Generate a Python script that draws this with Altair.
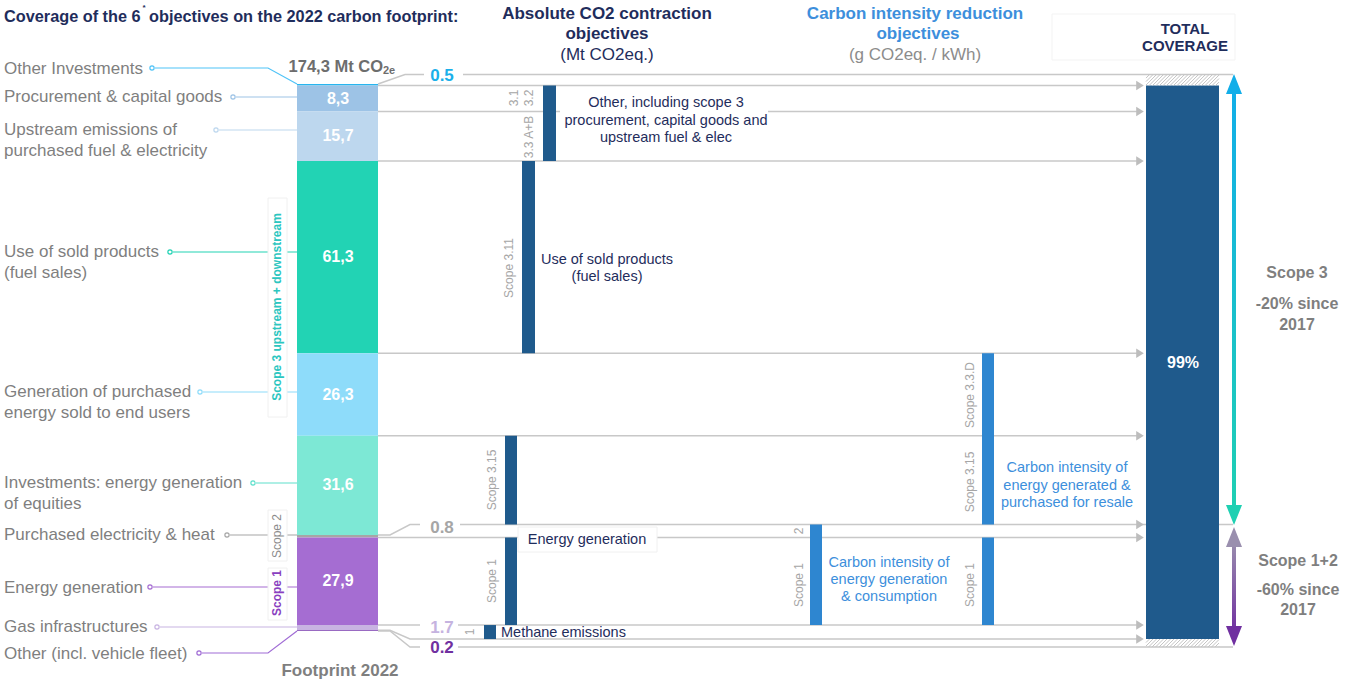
import altair as alt
import pandas as pd

W, H = 1346, 679
FONT = "Liberation Sans"
NAVY = "#1f2d5c"
BARNAVY = "#1f5a8c"
BLUE = "#2e86d0"
TXTBLUE = "#3d8fdc"
GRAY = "#7f7f7f"
LGRAY = "#a6a6a6"
LINE = "#c8c8c8"

# ---------------- data ----------------
seg_values = [0.5, 8.3, 15.7, 61.3, 26.3, 31.6, 0.8, 27.9, 1.7, 0.2]
seg_text = ["0.5", "8,3", "15,7", "61,3", "26,3", "31,6", "0.8", "27,9", "1.7", "0.2"]
seg_labels = [
    ["Other Investments"],
    ["Procurement & capital goods"],
    ["Upstream emissions of", "purchased fuel & electricity"],
    ["Use of sold products", "(fuel sales)"],
    ["Generation of purchased", "energy sold to end users"],
    ["Investments: energy generation", "of equities"],
    ["Purchased electricity & heat"],
    ["Energy generation"],
    ["Gas infrastructures"],
    ["Other (incl. vehicle fleet)"],
]
seg_colors = ["#29b5ef", "#9dc3e6", "#bdd7ee", "#22d3b4", "#8edcfa",
              "#7de8d5", "#a6a6a6", "#a56dd2", "#c8b4e2", "#7b3fb0"]
link_colors = ["#4fc3f7", "#9dc3e6", "#bdd7ee", "#22d3b4", "#8edcfa",
               "#5fe0cc", "#a6a6a6", "#a56dd2", "#c8b4e2", "#a06cd5"]
small_value_colors = {0: "#1ab0ea", 6: "#a6a6a6", 8: "#c5b3e0", 9: "#7030a0"}
footprint_total = "174,3 Mt CO"
footprint_total_sub = "2e"
footprint_name = "Footprint 2022"
coverage_share = "99%"

# objectives: (first segment, last segment, column)
abs_objectives = [(1, 2, "other"), (3, 3, "sold"), (5, 5, "s315"), (7, 7, "s1"), (8, 8, "methane")]
int_objectives = [(6, 7, "gen"), (4, 5, "resale"), (7, 7, "resale")]
covered = (1, 8)

# ---------------- layout ----------------
PX_TOP = 84.0
K = (631.0 - PX_TOP) / sum(seg_values)


def u(px):
    return (px - PX_TOP) / K


XS = alt.Scale(domain=[0, W], range=[0, W], nice=False, zero=False)
YS = alt.Scale(domain=[u(0), u(H)], range=[0, H], nice=False, zero=False)

cum = [0.0]
for v in seg_values:
    cum.append(cum[-1] + v)
right = cum[:]
right[0] = cum[1] - 11 / K
right[6] = cum[7] - 13 / K
right[9] = cum[8] + 14 / K
right[10] = right[9] + 8 / K

BAR_X = (297, 378)
TOT_X = (1146, 1219)
col_x = {"other": (543, 556), "sold": (522, 535), "s315": (505, 517), "s1": (505, 517),
         "methane": (484, 496), "gen": (810, 822), "resale": (982, 994)}

X = lambda: alt.X("x:Q", scale=XS, axis=None)
Y = lambda: alt.Y("y:Q", scale=YS, axis=None)


def rects(rows, color_field=True, **kw):
    df = pd.DataFrame(rows)
    enc = dict(x=X(), x2="x2:Q", y=Y(), y2="y2:Q")
    if color_field:
        enc["color"] = alt.Color("c:N", scale=None)
    return alt.Chart(df).mark_rect(**kw).encode(**enc)


def texts(rows, **kw):
    df = pd.DataFrame(rows, columns=["x", "yp", "t", "c"])
    df["y"] = df["yp"].map(u)
    return alt.Chart(df).mark_text(font=FONT, baseline="middle", **kw).encode(
        x=X(), y=Y(), text="t:N", color=alt.Color("c:N", scale=None))


def lines(rows, width=1.5):
    df = pd.DataFrame(rows)
    return alt.Chart(df).mark_line(strokeWidth=width).encode(
        x=X(), y=Y(), detail="id:N", order="o:Q", color=alt.Color("c:N", scale=None))


def points(rows, **kw):
    df = pd.DataFrame(rows)
    return alt.Chart(df).mark_point(**kw).encode(x=X(), y=Y(), color=alt.Color("c:N", scale=None))


layers = []

# header frame for total coverage
layers.append(rects([dict(x=1052, x2=1235, y=u(14), y2=u(60))], color_field=False,
                    fill="white", stroke="#f3f3f3", strokeWidth=1))

# boundary lines towards the total bar
rows = []
n = len(cum)
for i in range(n):
    end = 1233 if i in (0, 6, n - 1) else 1140
    if i == 0:
        pts = [(378, cum[i]), (405, right[i]), (end, right[i])]
    else:
        pts = [(378, cum[i]), (390, cum[i]), (410, right[i]), (end, right[i])]
    for j, (x, y) in enumerate(pts):
        rows.append(dict(id=f"b{i}", o=j, x=x, y=y, c=LINE))
layers.append(lines(rows, 1.5))

# left connectors
link_y = [68, 97, 130, 252, 392, 483, 535, 587, 627, 653]
circle_x = [152, 233, 216, 170, 200, 253, 227, 150, 157, 199]
rows = []
for i in range(len(seg_values)):
    if i == 0:
        pts = [(circle_x[i] + 3, u(link_y[i])), (268, u(link_y[i])), (BAR_X[0], cum[0])]
    elif i == len(seg_values) - 1:
        pts = [(circle_x[i] + 3, u(link_y[i])), (268, u(link_y[i])), (BAR_X[0], cum[-1])]
    else:
        pts = [(circle_x[i] + 3, u(link_y[i])), (BAR_X[0], u(link_y[i]))]
    for j, (x, y) in enumerate(pts):
        rows.append(dict(id=f"l{i}", o=j, x=x, y=y, c=link_colors[i]))
layers.append(lines(rows, 1.2))
layers.append(points([dict(x=circle_x[i], y=u(link_y[i]), c=link_colors[i]) for i in range(len(seg_values))],
                     shape="circle", filled=False, size=18, strokeWidth=1.2, opacity=1))

# white label boxes
box_rows = [
    (268, 287, 198, 417), (268, 287, 510, 561), (268, 287, 568, 620),  # scope boxes left
    (518, 657, 527, 552),  # energy generation
]
layers.append(rects([dict(x=a, x2=b, y=u(c), y2=u(d)) for a, b, c, d in box_rows], color_field=False,
                    fill="white", stroke="#f0f0f0", strokeWidth=1))
plain_boxes = [(424, 463, 66, 83), (420, 460, 519, 533), (420, 458, 620, 636), (420, 458, 641, 655),
               (560, 768, 90, 150)]
layers.append(rects([dict(x=a, x2=b, y=u(c), y2=u(d)) for a, b, c, d in plain_boxes], color_field=False,
                    fill="white"))

# stacked footprint bar
layers.append(rects([dict(x=BAR_X[0], x2=BAR_X[1], y=cum[i], y2=cum[i + 1], c=seg_colors[i])
                     for i in range(len(seg_values))]))

# objective bars
rows = [dict(x=col_x[c][0], x2=col_x[c][1], y=right[a], y2=right[b + 1], c=BARNAVY) for a, b, c in abs_objectives]
rows += [dict(x=col_x[c][0], x2=col_x[c][1], y=right[a], y2=right[b + 1], c=BLUE) for a, b, c in int_objectives]
layers.append(rects(rows))

# total coverage bar + uncovered hatching
layers.append(rects([dict(x=TOT_X[0], x2=TOT_X[1], y=right[covered[0]], y2=right[covered[1] + 1], c=BARNAVY)]))
hatch = []
for (ya, yb) in [(right[0], right[1]), (right[9], right[10])]:
    pa, pb = PX_TOP + ya * K, PX_TOP + yb * K
    h = pb - pa
    x0 = TOT_X[0] - h
    while x0 < TOT_X[1]:
        tmin = max(0.0, TOT_X[0] - x0)
        tmax = min(h, TOT_X[1] - x0)
        if tmin < tmax:
            hatch.append(dict(x=x0 + tmin, x2=x0 + tmax, y=u(pb - tmin), y2=u(pb - tmax)))
        x0 += 3.5
layers.append(alt.Chart(pd.DataFrame(hatch)).mark_rule(color="#c4c4c4", strokeWidth=1).encode(
    x=X(), x2="x2:Q", y=Y(), y2="y2:Q"))

# gray arrowheads
ARROW_R = "M-0.8,-1L0.8,0L-0.8,1Z"
layers.append(points([dict(x=1140, y=right[i], c="#bdbdbd") for i in range(1, 10)],
                     shape=ARROW_R, filled=True, size=90, opacity=1, strokeWidth=0))

# scope arrows
def grad(c1, c2):
    return alt.Gradient(gradient="linear", stops=[alt.GradientStop(color=c1, offset=0),
                                                  alt.GradientStop(color=c2, offset=1)],
                        x1=0, x2=0, y1=0, y2=1)


layers.append(alt.Chart(pd.DataFrame([dict(x=1232, x2=1236, y=u(88), y2=u(512))])).mark_rect(
    color=grad("#12aee9", "#1fd0b2")).encode(x=X(), x2="x2:Q", y=Y(), y2="y2:Q"))
layers.append(alt.Chart(pd.DataFrame([dict(x=1232, x2=1236, y=u(540), y2=u(633))])).mark_rect(
    color=grad("#9a8fae", "#7030a0")).encode(x=X(), x2="x2:Q", y=Y(), y2="y2:Q"))
UP = "M-0.8,1L0.8,1L0,-1Z"
DOWN = "M-0.8,-1L0.8,-1L0,1Z"
layers.append(points([dict(x=1234, y=u(84), c="#12aee9"), dict(x=1234, y=u(537), c="#9a8fae")],
                     shape=UP, filled=True, size=400, opacity=1, strokeWidth=0))
layers.append(points([dict(x=1234, y=u(515), c="#1fd0b2"), dict(x=1234, y=u(636), c="#7030a0")],
                     shape=DOWN, filled=True, size=400, opacity=1, strokeWidth=0))

# ---------------- texts ----------------
# title
layers.append(texts([(4, 17, "Coverage of the 6", NAVY)], align="left", fontWeight="bold", fontSize=16.3))
layers.append(texts([(149, 17, "objectives on the 2022 carbon footprint:", NAVY)], align="left",
                    fontWeight="bold", fontSize=16.3))
layers.append(texts([(144, 8, "*", NAVY)], align="center", fontWeight="bold", fontSize=8))

# column headers
layers.append(texts([(607, 14, "Absolute CO2 contraction", NAVY), (607, 34, "objectives", NAVY),
                     (915, 14, "Carbon intensity reduction", TXTBLUE), (918, 34, "objectives", TXTBLUE)],
                    align="center", fontWeight="bold", fontSize=17))
layers.append(texts([(607, 55, "(Mt CO2eq.)", NAVY), (915, 55, "(g CO2eq. / kWh)", "#8c8c8c")],
                    align="center", fontSize=17))
layers.append(texts([(1185, 29, "TOTAL", NAVY), (1185, 46, "COVERAGE", NAVY)],
                    align="center", fontWeight="bold", fontSize=15))

# left labels
label_y = [[69], [97], [130, 151], [252, 273], [392, 413], [483, 504], [535], [588], [627], [654]]
rows = []
for i, lab in enumerate(seg_labels):
    for line_txt, yy in zip(lab, label_y[i]):
        rows.append((4, yy, line_txt, GRAY))
layers.append(texts(rows, align="left", fontSize=17))

# scope labels near bar
layers.append(texts([(277, 307, "Scope 3 upstream + downstream", "#2cc6c0")], align="center",
                    fontWeight="bold", fontSize=12, angle=270))
layers.append(texts([(277, 536, "Scope 2", "#8c8c8c")], align="center", fontSize=12, angle=270))
layers.append(texts([(277, 593, "Scope 1", "#8a3fc0")], align="center", fontWeight="bold", fontSize=12,
                    angle=270))

# values in bar
rows = [(338, PX_TOP + K * (cum[i] + cum[i + 1]) / 2, seg_text[i], "white")
        for i in range(len(seg_values)) if i not in small_value_colors]
layers.append(texts(rows, align="center", fontWeight="bold", fontSize=16))
small_y = {0: 76, 6: 528, 8: 628, 9: 648}
layers.append(texts([(442, small_y[i], seg_text[i], c) for i, c in small_value_colors.items()],
                    align="center", fontWeight="bold", fontSize=17))

layers.append(texts([(383, 67, footprint_total, "#6d6d6d")], align="right", fontWeight="bold", fontSize=16.5))
layers.append(texts([(383, 71, footprint_total_sub, "#6d6d6d")], align="left", fontWeight="bold", fontSize=11))
layers.append(texts([(340, 671, footprint_name, GRAY)], align="center", fontWeight="bold", fontSize=17))

# rotated scope tags next to objective bars
tags = [(514, 98, "3.1"), (529, 98, "3.2"), (529, 137, "3.3 A+B"), (509, 268, "Scope 3.11"),
        (492, 480, "Scope 3.15"), (492, 581, "Scope 1"), (470, 632, "1"),
        (799, 531, "2"), (799, 585, "Scope 1"), (970, 395, "Scope 3.3.D"), (970, 482, "Scope 3.15"),
        (970, 585, "Scope 1")]
layers.append(texts([(x, y, t, LGRAY) for x, y, t in tags], align="center", fontSize=12, angle=270))

# objective descriptions
layers.append(texts([(666, 103, "Other, including scope 3", NAVY),
                     (666, 121, "procurement, capital goods and", NAVY),
                     (666, 138, "upstream fuel & elec", NAVY),
                     (607, 260, "Use of sold products", NAVY), (607, 277, "(fuel sales)", NAVY),
                     (587, 540, "Energy generation", NAVY)],
                    align="center", fontSize=14.5))
layers.append(texts([(501, 633, "Methane emissions", NAVY)], align="left", fontSize=14.5))
layers.append(texts([(889, 563, "Carbon intensity of", TXTBLUE), (889, 580, "energy generation", TXTBLUE),
                     (889, 597, "& consumption", TXTBLUE),
                     (1067, 468, "Carbon intensity of", TXTBLUE), (1067, 486, "energy generated &", TXTBLUE),
                     (1067, 503, "purchased for resale", TXTBLUE)],
                    align="center", fontSize=14.5))

# total share and scope notes
layers.append(texts([(1183, 363, coverage_share, "white")], align="center", fontWeight="bold", fontSize=16))
layers.append(texts([(1297, 273, "Scope 3", GRAY), (1297, 304, "-20% since", GRAY), (1297, 325, "2017", GRAY),
                     (1298, 561, "Scope 1+2", GRAY), (1298, 590, "-60% since", GRAY),
                     (1298, 610, "2017", GRAY)],
                    align="center", fontWeight="bold", fontSize=16))

chart = alt.layer(*layers).properties(
    width=W, height=H, padding=0, autosize=alt.AutoSizeParams(type="none"), background="white"
).configure_view(strokeWidth=0)

chart.save("out.html", embed_options={"renderer": "svg", "actions": False})
